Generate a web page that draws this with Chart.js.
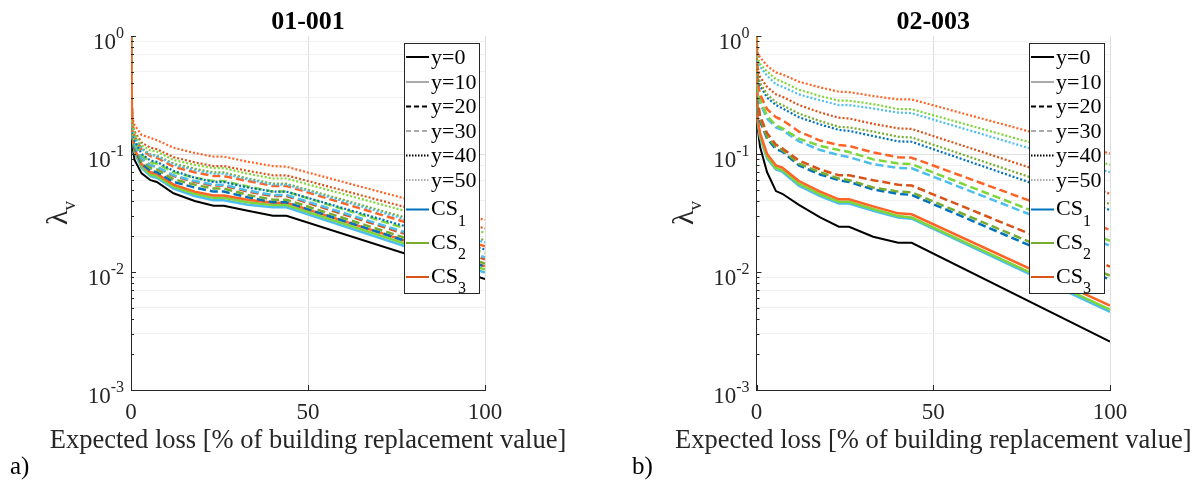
<!DOCTYPE html>
<html lang="en">
<head>
  <meta charset="UTF-8">
  <title>Expected loss curves</title>
  <script src="https://cdn.jsdelivr.net/npm/chart.js"></script>
  <style>
    body { margin: 0; background: #fff; }
    #wrap { position: relative; width: 1194px; height: 483px; }
    canvas { position: absolute; top: 0; }
    #chartA { left: 0; }
    #chartB { left: 597px; }
  </style>
</head>
<body>
  <div id="wrap">
    <canvas id="chartA" width="597" height="483"></canvas>
    <canvas id="chartB" width="597" height="483"></canvas>
  </div>

  <script>
    // x positions (expected loss, %) where the curves were read
    const lossPct = [0, 0.3, 1, 3, 5.5, 7.3, 12, 18, 23.3, 26.2, 33, 40.1, 43.9, 100];

    // panel a) 01-001
    const a_y0      = [1, 0.123, 0.089, 0.0685, 0.06, 0.058, 0.0465, 0.040, 0.0365, 0.0365, 0.033, 0.030, 0.030, 0.0087];
    const a_y10_cs1 = [1, 0.150, 0.103, 0.076, 0.065, 0.063, 0.051, 0.044, 0.0405, 0.0405, 0.0372, 0.0353, 0.0353, 0.0099];
    const a_y10_cs2 = [1, 0.155, 0.106, 0.079, 0.067, 0.065, 0.053, 0.046, 0.0425, 0.0425, 0.039, 0.037, 0.037, 0.0105];
    const a_y10_cs3 = [1, 0.160, 0.110, 0.082, 0.070, 0.068, 0.055, 0.048, 0.0445, 0.0445, 0.041, 0.0387, 0.0387, 0.0112];
    const a_y20_cs1 = [1, 0.160, 0.112, 0.083, 0.072, 0.070, 0.058, 0.052, 0.048, 0.048, 0.043, 0.039, 0.039, 0.0111];
    const a_y20_cs2 = [1, 0.165, 0.116, 0.087, 0.076, 0.074, 0.061, 0.055, 0.051, 0.051, 0.045, 0.041, 0.041, 0.0118];
    const a_y20_cs3 = [1, 0.170, 0.122, 0.092, 0.080, 0.078, 0.065, 0.058, 0.054, 0.054, 0.048, 0.044, 0.044, 0.0128];
    const a_y30_cs1 = [1, 0.170, 0.122, 0.092, 0.080, 0.078, 0.066, 0.059, 0.055, 0.055, 0.049, 0.045, 0.045, 0.0133];
    const a_y30_cs2 = [1, 0.175, 0.130, 0.098, 0.085, 0.083, 0.070, 0.063, 0.059, 0.059, 0.053, 0.048, 0.048, 0.0145];
    const a_y30_cs3 = [1, 0.185, 0.142, 0.109, 0.096, 0.093, 0.078, 0.070, 0.065, 0.065, 0.059, 0.0536, 0.0536, 0.0165];
    const a_y40_cs1 = [1, 0.175, 0.130, 0.100, 0.088, 0.086, 0.072, 0.063, 0.058, 0.058, 0.052, 0.048, 0.048, 0.0155];
    const a_y40_cs2 = [1, 0.185, 0.142, 0.112, 0.099, 0.097, 0.083, 0.075, 0.070, 0.070, 0.062, 0.056, 0.056, 0.0186];
    const a_y40_cs3 = [1, 0.195, 0.155, 0.125, 0.113, 0.110, 0.094, 0.085, 0.079, 0.079, 0.072, 0.066, 0.066, 0.0234];
    const a_y50_cs1 = [1, 0.185, 0.142, 0.110, 0.098, 0.096, 0.081, 0.073, 0.068, 0.068, 0.061, 0.055, 0.055, 0.0178];
    const a_y50_cs2 = [1, 0.190, 0.150, 0.118, 0.107, 0.105, 0.089, 0.081, 0.076, 0.076, 0.068, 0.062, 0.062, 0.0215];
    const a_y50_cs3 = [1, 0.207, 0.176, 0.145, 0.137, 0.131, 0.113, 0.102, 0.095, 0.095, 0.086, 0.079, 0.078, 0.0276];

    // panel b) 02-003
    const b_y0      = [1, 0.17, 0.115, 0.07, 0.0485, 0.046, 0.037, 0.029, 0.0242, 0.0242, 0.0199, 0.0177, 0.0177, 0.00257];
    const b_y10_cs1 = [1, 0.185, 0.138, 0.092, 0.074, 0.0708, 0.054, 0.044, 0.038, 0.038, 0.033, 0.0289, 0.0283, 0.0046];
    const b_y10_cs2 = [1, 0.19, 0.143, 0.095, 0.076, 0.073, 0.056, 0.0456, 0.0394, 0.0394, 0.0342, 0.0298, 0.029, 0.0048];
    const b_y10_cs3 = [1, 0.20, 0.15, 0.10, 0.080, 0.0766, 0.059, 0.048, 0.0413, 0.0413, 0.036, 0.0314, 0.0308, 0.0052];
    const b_y20_cs1 = [1, 0.27, 0.19, 0.135, 0.11, 0.105, 0.08, 0.067, 0.06, 0.058, 0.05, 0.046, 0.045, 0.0086];
    const b_y20_cs2 = [1, 0.28, 0.20, 0.14, 0.115, 0.108, 0.083, 0.07, 0.062, 0.06, 0.052, 0.048, 0.0473, 0.0093];
    const b_y20_cs3 = [1, 0.30, 0.21, 0.15, 0.12, 0.112, 0.088, 0.074, 0.066, 0.066, 0.06, 0.055, 0.054, 0.0111];
    const b_y30_cs1 = [1, 0.36, 0.27, 0.20, 0.168, 0.16, 0.128, 0.108, 0.098, 0.094, 0.082, 0.076, 0.0757, 0.0167];
    const b_y30_cs2 = [1, 0.38, 0.29, 0.21, 0.175, 0.165, 0.135, 0.117, 0.108, 0.104, 0.09, 0.083, 0.082, 0.0184];
    const b_y30_cs3 = [1, 0.42, 0.32, 0.24, 0.205, 0.194, 0.155, 0.13, 0.119, 0.117, 0.103, 0.094, 0.093, 0.0227];
    const b_y40_cs1 = [1, 0.47, 0.38, 0.30, 0.26, 0.244, 0.205, 0.178, 0.16, 0.157, 0.142, 0.128, 0.127, 0.0335];
    const b_y40_cs2 = [1, 0.50, 0.40, 0.32, 0.275, 0.26, 0.22, 0.19, 0.17, 0.168, 0.155, 0.14, 0.138, 0.0377];
    const b_y40_cs3 = [1, 0.55, 0.45, 0.37, 0.32, 0.306, 0.26, 0.225, 0.203, 0.2, 0.18, 0.165, 0.163, 0.046];
    const b_y50_cs1 = [1, 0.62, 0.55, 0.46, 0.39, 0.372, 0.32, 0.285, 0.26, 0.26, 0.243, 0.224, 0.222, 0.070];
    const b_y50_cs2 = [1, 0.66, 0.58, 0.50, 0.43, 0.41, 0.35, 0.31, 0.283, 0.283, 0.265, 0.24, 0.24, 0.081];
    const b_y50_cs3 = [1, 0.72, 0.66, 0.56, 0.49, 0.473, 0.41, 0.367, 0.337, 0.335, 0.31, 0.29, 0.29, 0.101];

    // axes / labels
    const xTicks = [0, 50, 100];
    const yDecades = [1, 0.1, 0.01, 0.001];
    const yExponents = ['0', '-1', '-2', '-3'];
    const yearLabels = ['y=0', 'y=10', 'y=20', 'y=30', 'y=40', 'y=50'];
    const csLabels = [['CS', '1'], ['CS', '2'], ['CS', '3']];

    // colours: years 20/40 use the dark set, 10/30/50 the light set
    const csDark = ['#0072BD', '#77AC30', '#D95319'];
    const csLight = ['#4DBEEE', '#7ED63A', '#FF6426'];
    const ink = '#262626';
    const fontFam = '"Liberation Serif", "Times New Roman", serif';

    const styleByYear = {
      10: { dash: [], width: 2.5, pal: csLight },
      20: { dash: [8, 4], width: 2.5, pal: csDark },
      30: { dash: [8, 4], width: 2.5, pal: csLight },
      40: { dash: [2, 2], width: 2.2, pal: csDark },
      50: { dash: [2, 2], width: 2.2, pal: csLight }
    };

    function pts(vals) {
      return lossPct.map((x, i) => ({ x: x, y: vals[i] }));
    }

    function buildDatasets(y0, byYear) {
      const list = [{ data: pts(y0), borderColor: '#000', borderWidth: 2, borderDash: [] }];
      [10, 20, 30, 40, 50].forEach(yr => {
        const st = styleByYear[yr];
        byYear[yr].forEach((vals, k) => {
          list.push({ data: pts(vals), borderColor: st.pal[k], borderWidth: st.width, borderDash: st.dash });
        });
      });
      // last plotted sits on top -> chart.js draws index 0 last
      return list.reverse();
    }

    // minor + major log ticks
    const yTickVals = [];
    [0.001, 0.01, 0.1].forEach(d => { for (let m = 1; m < 10; m++) yTickVals.push(d * m); });
    yTickVals.push(1);
    const isDecade = v => Math.abs(Math.log10(v) - Math.round(Math.log10(v))) < 1e-6;

    function drawLegend(ctx, right, top) {
      const w = 75, h = 250;
      const left = right - w;
      ctx.fillStyle = '#fff';
      ctx.fillRect(left, top, w, h);
      ctx.strokeStyle = ink;
      ctx.lineWidth = 1;
      ctx.setLineDash([]);
      ctx.strokeRect(Math.round(left) + 0.5, Math.round(top) + 0.5, w, h);

      const rows = [14, 39, 63.5, 88, 112.5, 137, 166.5, 200, 234];
      const yearStyles = [
        { c: '#000', d: [] }, { c: '#aaaaaa', d: [] },
        { c: '#000', d: [5, 3] }, { c: '#aaaaaa', d: [5, 3] },
        { c: '#000', d: [1.5, 1.5] }, { c: '#aaaaaa', d: [1.5, 1.5] }
      ];
      const x0 = left + 2, x1 = left + 25, tx = left + 27;
      ctx.textAlign = 'left';
      ctx.textBaseline = 'middle';
      rows.forEach((ry, i) => {
        const y = top + ry;
        ctx.beginPath();
        ctx.lineWidth = 2;
        if (i < 6) {
          ctx.strokeStyle = yearStyles[i].c;
          ctx.setLineDash(yearStyles[i].d);
        } else {
          ctx.strokeStyle = csDark[i - 6];
          ctx.setLineDash([]);
        }
        ctx.moveTo(x0, y);
        ctx.lineTo(x1, y);
        ctx.stroke();
        ctx.setLineDash([]);
        ctx.fillStyle = '#000';
        if (i < 6) {
          ctx.font = '22px ' + fontFam;
          ctx.fillText(yearLabels[i], tx, y + 1);
        } else {
          const lab = csLabels[i - 6];
          ctx.font = '22px ' + fontFam;
          ctx.fillText(lab[0], tx, y);
          const cw = ctx.measureText(lab[0]).width;
          ctx.font = '16px ' + fontFam;
          ctx.fillText(lab[1], tx + cw, y + 12);
        }
      });
    }

    function decorate(chart, o) {
      const ctx = chart.ctx, ca = chart.chartArea;
      const xs = chart.scales.x, ys = chart.scales.y;
      ctx.save();

      // inward tick marks
      ctx.strokeStyle = ink;
      ctx.lineWidth = 1;
      yTickVals.forEach(v => {
        const py = Math.round(ys.getPixelForValue(v)) + 0.5;
        const len = isDecade(v) ? 5 : 3;
        ctx.beginPath();
        ctx.moveTo(ca.left, py);
        ctx.lineTo(ca.left + len, py);
        ctx.stroke();
      });
      xTicks.forEach(v => {
        const px = Math.round(xs.getPixelForValue(v)) + 0.5;
        ctx.beginPath();
        ctx.moveTo(px, ca.bottom);
        ctx.lineTo(px, ca.bottom - 5);
        ctx.stroke();
      });

      // y tick labels 10^n
      ctx.fillStyle = ink;
      ctx.textAlign = 'right';
      ctx.textBaseline = 'alphabetic';
      yDecades.forEach((v, i) => {
        const py = ys.getPixelForValue(v);
        ctx.font = '16px ' + fontFam;
        const ew = ctx.measureText(yExponents[i]).width;
        ctx.fillText(yExponents[i], ca.left - 7, py + 2);
        ctx.font = '23px ' + fontFam;
        ctx.fillText('10', ca.left - 7 - ew, py + 13);
      });

      // x tick labels
      ctx.textAlign = 'center';
      ctx.font = '23px ' + fontFam;
      xTicks.forEach(v => {
        ctx.fillText(String(v), xs.getPixelForValue(v), 419);
      });

      const cx = (ca.left + ca.right) / 2;
      // x axis title
      ctx.font = '26.5px ' + fontFam;
      ctx.fillText('Expected loss [% of building replacement value]', cx, 448);

      // panel title
      ctx.fillStyle = '#000';
      ctx.font = 'bold 26px ' + fontFam;
      ctx.fillText(o.title, cx, 29);

      // y axis label lambda_v
      ctx.save();
      ctx.translate(ca.left - 64, (ca.top + ca.bottom) / 2);
      ctx.rotate(-Math.PI / 2);
      ctx.fillStyle = ink;
      ctx.font = '30px ' + fontFam;
      const lw = ctx.measureText('λ').width;
      ctx.font = '19px ' + fontFam;
      const vw = ctx.measureText('v').width;
      const start = -(lw + vw) / 2;
      ctx.textAlign = 'left';
      ctx.font = '30px ' + fontFam;
      ctx.fillText('λ', start, 0);
      ctx.font = '19px ' + fontFam;
      ctx.fillText('v', start + lw, 8);
      ctx.restore();

      // panel tag
      ctx.textAlign = 'left';
      ctx.fillStyle = '#000';
      ctx.font = '25px ' + fontFam;
      ctx.fillText(o.tag, o.tagX, 474);

      drawLegend(ctx, ca.right - 6, 43);
      ctx.restore();
    }

    function makePanel(id, o) {
      const ctx = document.getElementById(id).getContext('2d');
      return new Chart(ctx, {
        type: 'line',
        data: { datasets: o.datasets },
        options: {
          responsive: false,
          animation: false,
          events: [],
          layout: { padding: { top: 36, right: o.padRight, left: 0, bottom: 0 } },
          elements: { point: { radius: 0 }, line: { tension: 0, fill: false } },
          plugins: { legend: { display: false }, tooltip: { enabled: false } },
          scales: {
            x: {
              type: 'linear', min: 0, max: 100,
              ticks: { stepSize: 50, callback: () => '' },
              grid: { color: '#dedede', drawTicks: false },
              border: { color: ink, width: 1 },
              afterFit: s => { s.height = 93; }
            },
            y: {
              type: 'logarithmic', min: 0.001, max: 1,
              afterBuildTicks: s => { s.ticks = yTickVals.map(v => ({ value: v })); },
              ticks: { callback: () => '' },
              grid: {
                drawTicks: false,
                color: c => (c.tick && isDecade(c.tick.value)) ? '#dedede' : '#f1f1f1'
              },
              border: { color: ink, width: 1 },
              afterFit: s => { s.width = o.left; }
            }
          }
        },
        plugins: [{ id: 'decor', afterDraw: chart => decorate(chart, o) }]
      });
    }

    makePanel('chartA', {
      title: '01-001', tag: 'a)', tagX: 10, left: 131, padRight: 112,
      datasets: buildDatasets(a_y0, {
        10: [a_y10_cs1, a_y10_cs2, a_y10_cs3],
        20: [a_y20_cs1, a_y20_cs2, a_y20_cs3],
        30: [a_y30_cs1, a_y30_cs2, a_y30_cs3],
        40: [a_y40_cs1, a_y40_cs2, a_y40_cs3],
        50: [a_y50_cs1, a_y50_cs2, a_y50_cs3]
      })
    });

    makePanel('chartB', {
      title: '02-003', tag: 'b)', tagX: 35, left: 159.5, padRight: 84,
      datasets: buildDatasets(b_y0, {
        10: [b_y10_cs1, b_y10_cs2, b_y10_cs3],
        20: [b_y20_cs1, b_y20_cs2, b_y20_cs3],
        30: [b_y30_cs1, b_y30_cs2, b_y30_cs3],
        40: [b_y40_cs1, b_y40_cs2, b_y40_cs3],
        50: [b_y50_cs1, b_y50_cs2, b_y50_cs3]
      })
    });
  </script>
</body>
</html>
